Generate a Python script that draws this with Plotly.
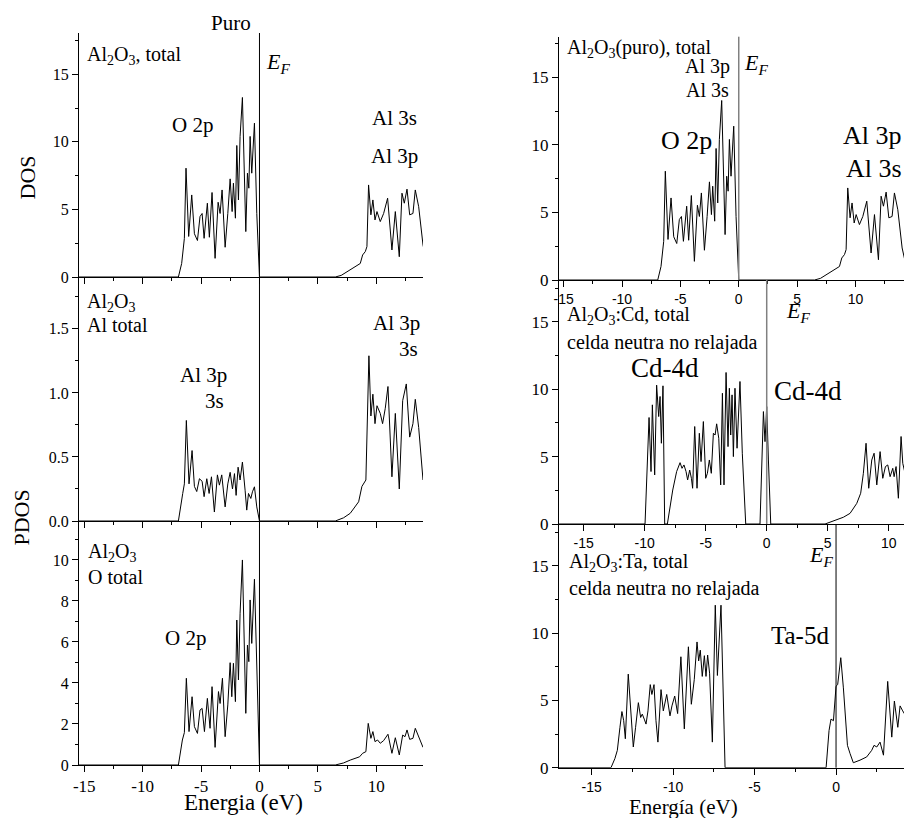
import plotly.graph_objects as go

# ---------------- data (energy in eV, DOS) ----------------
# Al2O3 pure, total DOS (used in top-left and top-right panels)
total_pts = [(-15.5, 0), (-6.94, 0), (-6.66, 1.0), (-6.51, 2.25), (-6.43, 2.86), (-6.29, 8.05),
             (-6.06, 3.0), (-5.8, 6.07), (-5.57, 3.2), (-5.31, 2.7), (-5.09, 4.47), (-4.91, 4.7),
             (-4.74, 2.86), (-4.46, 5.46), (-4.29, 2.94), (-4.06, 6.25), (-3.8, 1.38), (-3.54, 5.53),
             (-3.37, 4.7), (-3.2, 6.44), (-2.94, 2.2), (-2.71, 4.7), (-2.51, 7.26), (-2.34, 4.84),
             (-2.23, 6.94), (-2.06, 4.35), (-1.94, 9.73), (-1.8, 5.7), (-1.66, 10.4), (-1.46, 13.28),
             (-1.17, 3.36), (-1.03, 7.68), (-0.91, 6.57), (-0.8, 10.4), (-0.66, 7.68), (-0.43, 11.38),
             (-0.23, 4.7), (0.0, 0), (6.49, 0), (7.0, 0.12), (7.49, 0.4), (8.2, 0.77), (8.63, 1.0),
             (8.83, 1.63), (9.06, 1.88), (9.2, 2.25), (9.34, 6.81), (9.54, 4.6), (9.71, 5.7),
             (9.89, 4.22), (10.06, 4.84), (10.34, 4.1), (10.63, 4.7), (10.97, 5.83), (11.34, 2.0),
             (11.63, 4.84), (11.97, 1.5), (12.2, 6.2), (12.4, 5.46), (12.63, 6.5), (12.86, 4.6),
             (13.14, 4.7), (13.34, 6.44), (13.63, 5.2), (14.0, 2.37), (14.3, 1.2)]

# Al2O3, Al partial DOS
al_pts = [(-15.5, 0), (-6.94, 0), (-6.57, 0.215), (-6.43, 0.29), (-6.26, 0.785), (-6.03, 0.29),
          (-5.77, 0.55), (-5.57, 0.27), (-5.37, 0.23), (-5.14, 0.33), (-4.91, 0.31), (-4.74, 0.19),
          (-4.51, 0.33), (-4.31, 0.215), (-4.11, 0.345), (-3.86, 0.07), (-3.6, 0.36), (-3.43, 0.28),
          (-3.23, 0.36), (-2.94, 0.11), (-2.71, 0.29), (-2.51, 0.38), (-2.31, 0.25), (-2.14, 0.37),
          (-2.0, 0.2), (-1.83, 0.42), (-1.66, 0.32), (-1.46, 0.46), (-1.23, 0.24), (-1.09, 0.085),
          (-0.94, 0.215), (-0.74, 0.176), (-0.6, 0.228), (-0.43, 0.267), (-0.23, 0.11), (0.0, 0),
          (6.49, 0), (7.2, 0.025), (7.77, 0.06), (8.49, 0.15), (8.77, 0.27), (9.11, 0.32),
          (9.37, 1.29), (9.54, 0.82), (9.71, 0.99), (9.89, 0.76), (10.06, 0.9), (10.34, 0.84),
          (10.54, 0.76), (10.77, 0.88), (11.0, 1.05), (11.34, 0.345), (11.63, 0.84), (11.97, 0.25),
          (12.26, 0.94), (12.43, 1.02), (12.57, 1.07), (12.86, 0.655), (13.14, 0.76), (13.34, 0.95),
          (13.63, 0.73), (14.0, 0.32)]

# Al2O3, O partial DOS
o_pts = [(-15.5, 0), (-6.94, 0), (-6.6, 1.22), (-6.43, 1.58), (-6.26, 4.23), (-6.03, 1.63),
         (-5.77, 3.33), (-5.57, 1.87), (-5.31, 1.54), (-5.09, 2.68), (-4.91, 2.76), (-4.71, 1.63),
         (-4.46, 3.25), (-4.23, 1.79), (-4.06, 3.82), (-3.8, 0.86), (-3.51, 3.58), (-3.37, 3.0),
         (-3.17, 4.23), (-2.94, 1.38), (-2.71, 2.93), (-2.51, 4.99), (-2.37, 3.33), (-2.23, 4.96),
         (-2.06, 3.09), (-1.94, 7.07), (-1.8, 4.15), (-1.66, 7.4), (-1.46, 10.0), (-1.17, 2.52),
         (-1.03, 5.85), (-0.91, 5.04), (-0.8, 8.05), (-0.66, 5.93), (-0.43, 9.06), (-0.23, 4.31),
         (0.0, 0), (6.49, 0), (7.2, 0.1), (7.77, 0.24), (8.57, 0.4), (8.83, 0.57), (9.11, 0.65),
         (9.31, 2.03), (9.54, 1.3), (9.71, 1.63), (9.89, 1.14), (10.11, 1.22), (10.34, 1.06),
         (10.63, 1.19), (11.0, 1.5), (11.34, 0.57), (11.63, 1.33), (11.97, 0.49), (12.26, 1.46),
         (12.46, 1.38), (12.63, 1.71), (12.86, 1.25), (13.14, 1.3), (13.34, 1.79), (13.63, 1.38),
         (14.0, 0.86)]

# Al2O3:Cd, total DOS
cd_pts = [(-17.5, 0), (-9.97, 0), (-9.64, 7.9), (-9.48, 3.89), (-9.37, 8.84), (-9.18, 3.64),
          (-9.02, 10.3), (-8.85, 7.97), (-8.74, 9.46), (-8.63, 5.99), (-8.5, 10.25), (-8.36, 0),
          (-8.14, 0), (-7.92, 1.29), (-7.7, 2.52), (-7.38, 3.89), (-7.1, 4.55), (-6.94, 4.13),
          (-6.78, 4.38), (-6.61, 3.89), (-6.48, 3.27), (-6.31, 4.0), (-6.17, 3.39), (-6.07, 2.65),
          (-5.9, 7.23), (-5.71, 2.65), (-5.52, 6.73), (-5.38, 4.63), (-5.19, 7.6), (-5.0, 3.39),
          (-4.86, 3.76), (-4.7, 4.75), (-4.54, 3.76), (-4.37, 6.73), (-4.23, 6.6), (-4.1, 7.43),
          (-3.93, 6.36), (-3.77, 2.9), (-3.63, 9.7), (-3.5, 2.9), (-3.33, 11.24), (-3.17, 5.74),
          (-3.06, 10.07), (-2.95, 6.6), (-2.84, 9.58), (-2.73, 5.0), (-2.6, 10.07), (-2.43, 5.62),
          (-2.19, 10.57), (-2.0, 5.25), (-1.72, 0), (-0.55, 0), (-0.27, 8.34), (-0.14, 6.11),
          (0.0, 8.71), (0.14, 4.75), (0.33, 0), (4.78, 0), (5.46, 0.25), (6.28, 0.5), (6.83, 0.79),
          (7.38, 1.53), (7.7, 2.28), (7.92, 3.76), (8.14, 5.99), (8.36, 2.65), (8.61, 4.75),
          (8.8, 5.25), (9.02, 2.9), (9.29, 5.37), (9.51, 3.39), (9.73, 4.26), (9.92, 4.38),
          (10.11, 3.51), (10.33, 4.13), (10.44, 3.51), (10.6, 4.26), (10.79, 1.91), (11.01, 6.49),
          (11.15, 4.5), (11.4, 3.5)]

# Al2O3:Ta, total DOS
ta_pts = [(-17.5, 0), (-13.81, 0), (-13.57, 0.68), (-13.42, 1.29), (-13.26, 3.0), (-13.14, 4.17),
          (-13.03, 3.49), (-12.93, 2.15), (-12.75, 6.95), (-12.6, 4.46), (-12.44, 1.54), (-12.3, 3.0),
          (-12.13, 4.83), (-11.99, 3.73), (-11.89, 3.98), (-11.77, 3.61), (-11.66, 3.24), (-11.54, 4.22),
          (-11.4, 6.17), (-11.3, 5.44), (-11.17, 6.17), (-11.05, 3.49), (-10.93, 1.9), (-10.74, 5.8),
          (-10.6, 4.22), (-10.39, 5.44), (-10.19, 3.85), (-10.07, 4.59), (-9.9, 5.32), (-9.72, 4.02),
          (-9.52, 8.24), (-9.31, 2.88), (-9.06, 8.98), (-8.88, 4.71), (-8.7, 6.54), (-8.53, 9.34),
          (-8.43, 7.93), (-8.33, 8.73), (-8.21, 6.78), (-8.08, 8.32), (-7.98, 6.78), (-7.88, 8.37),
          (-7.76, 7.02), (-7.59, 1.9), (-7.41, 12.07), (-7.28, 6.85), (-7.06, 12.07), (-6.81, 0),
          (-0.61, 0), (-0.43, 2.76), (-0.31, 3.61), (-0.16, 3.49), (0.0, 6.05), (0.1, 6.17),
          (0.29, 8.17), (0.45, 5.93), (0.7, 1.66), (0.86, 1.05), (1.06, 0.37), (1.47, 0.56),
          (1.88, 0.8), (2.19, 1.29), (2.33, 1.66), (2.5, 1.54), (2.7, 1.9), (2.91, 0.93),
          (3.17, 6.41), (3.42, 2.27), (3.58, 4.95), (3.79, 3.0), (3.93, 4.59), (4.09, 4.22),
          (4.3, 3.8)]

# energy tick labels (plain hyphen minus as in the original)
x_tick_vals = [-15, -10, -5, 0, 5, 10]
x_tick_text = ["-15", "-10", "-5", "0", "5", "10"]

# ---------------- layout helpers ----------------
W, H = 904, 818


def px(x):
    return x / W


def py(y):
    return 1 - y / H


SERIF = "Liberation Serif, Times New Roman, serif"
SANS = "Liberation Sans, Arial, sans-serif"

fig = go.Figure()

panels = [
    (total_pts, 1),
    (al_pts, 2),
    (o_pts, 3),
    (total_pts, 4),
    (cd_pts, 5),
    (ta_pts, 6),
]
for pts, i in panels:
    xs = [p[0] for p in pts]
    ys = [p[1] for p in pts]
    suffix = "" if i == 1 else str(i)
    fig.add_trace(go.Scatter(x=xs, y=ys, mode="lines", line=dict(color="black", width=1),
                             xaxis="x" + suffix, yaxis="y" + suffix, showlegend=False,
                             cliponaxis=True, hoverinfo="skip"))


def xax(domain, rng, anchor, showlabels, font):
    return dict(domain=domain, range=rng, anchor=anchor, showline=True, linecolor="black",
                linewidth=1, ticks="outside", ticklen=6, tickwidth=1, tickcolor="black",
                showgrid=False, zeroline=False, tickmode="array", tickvals=x_tick_vals,
                ticktext=x_tick_text, showticklabels=showlabels, automargin=False,
                tickfont=dict(family=font[0], size=font[1], color="black"),
                minor=dict(ticks="outside", ticklen=3, tickcolor="black", dtick=2.5, tick0=0,
                           tickmode="linear", showgrid=False))


def yax(domain, rng, anchor, dtick, mdtick, size, fmt=None):
    d = dict(domain=domain, range=rng, anchor=anchor, showline=True, linecolor="black",
             linewidth=1, ticks="outside", ticklen=6, tickwidth=1, tickcolor="black",
             showgrid=False, zeroline=False, dtick=dtick, tick0=0, automargin=False,
             tickfont=dict(family=SERIF, size=size, color="black"),
             minor=dict(ticks="outside", ticklen=3, tickcolor="black", dtick=mdtick, tick0=0,
                        showgrid=False))
    if fmt:
        d["tickformat"] = fmt
    return d


LX = [px(79), px(423)]
RX = [px(559), 1.0]

layout = dict(
    width=W, height=H, autosize=False,
    margin=dict(l=0, r=0, t=0, b=0, pad=0, autoexpand=False),
    paper_bgcolor="white", plot_bgcolor="rgba(0,0,0,0)",
    font=dict(family=SERIF, color="black"),
    xaxis=xax(LX, [-15.45, 14.0], "y", False, (SERIF, 17)),
    yaxis=yax([py(277), py(33)], [0, 18.05], "x", 5, 2.5, 16),
    xaxis2=xax(LX, [-15.45, 14.0], "y2", False, (SERIF, 17)),
    yaxis2=yax([py(521), py(277)], [0, 1.905], "x2", 0.5, 0.25, 16, ".1f"),
    xaxis3=xax(LX, [-15.45, 14.0], "y3", True, (SERIF, 17)),
    yaxis3=yax([py(765), py(521)], [0, 11.9], "x3", 2, 1, 16),
    xaxis4=xax(RX, [-15.4, 14.16], "y4", True, (SANS, 14)),
    yaxis4=yax([py(280), py(36.7)], [0, 18.0], "x4", 5, 2.5, 17),
    xaxis5=xax(RX, [-17.02, 11.25], "y5", True, (SANS, 14)),
    yaxis5=yax([py(524), py(280)], [0, 18.1], "x5", 5, 2.5, 17),
    xaxis6=xax(RX, [-17.0, 4.17], "y6", True, (SANS, 14)),
    yaxis6=yax([py(767.7), py(524)], [0, 18.1], "x6", 5, 2.5, 17),
)
fig.update_layout(**layout)

# Fermi-level lines
shapes = []
for suffix, color in [("", "black"), ("2", "black"), ("3", "black"),
                      ("4", "#808080"), ("5", "#808080"), ("6", "black")]:
    shapes.append(dict(type="line", xref="x" + suffix, yref=("y" + suffix) + " domain",
                       x0=0, x1=0, y0=0, y1=1,
                       line=dict(color=color, width=1.5 if color != "black" else 1)))
fig.update_layout(shapes=shapes)

AL2O3 = "Al<sub>2</sub>O<sub>3</sub>"
EF = "<i>E<sub>F</sub></i>"

ann = []


def add(text, x, y, size, xanchor="center", angle=0):
    ann.append(dict(text=text, x=px(x), y=py(y), xref="paper", yref="paper",
                    xanchor=xanchor, yanchor="middle", showarrow=False, textangle=angle,
                    font=dict(family=SERIF, size=size, color="black")))


# left column
add("Puro", 231, 23, 21)
add(AL2O3 + ", total", 85, 56, 20, "left")
add(EF, 264, 63, 22, "left")
add("O 2p", 192, 125, 21)
add("Al 3s", 394, 118, 21)
add("Al 3p", 394, 155.5, 21)
add(AL2O3, 85, 302, 20, "left")
add("Al total", 85, 325, 20, "left")
add("Al 3p", 203, 375, 21)
add("3s", 214, 401, 21)
add("Al 3p", 396, 323, 21)
add("3s", 408, 349, 21)
add(AL2O3, 86, 552, 20, "left")
add("O total", 86, 577, 20, "left")
add("O 2p", 185, 638, 21)
add("DOS", 27.5, 178, 22, angle=-90)
add("PDOS", 21, 517.5, 22, angle=-90)
add("Energia (eV)", 244, 802, 23)

# right column
add(AL2O3 + "(puro), total", 565, 48, 20, "left")
add("Al 3p", 707.5, 66.5, 20)
add("Al 3s", 707.5, 89.5, 20)
add(EF, 742, 64, 22, "left")
add("O 2p", 686, 140, 26)
add("Al 3p", 904, 135.5, 26, "right")
add("Al 3s", 904, 168, 26, "right")
add(AL2O3 + ":Cd, total", 565, 315.5, 20, "left")
add("celda neutra no relajada", 565, 342, 20, "left")
add(EF, 784, 312, 22, "left")
add("Cd-4d", 665, 367.5, 27)
add("Cd-4d", 808, 390.5, 27)
add(AL2O3 + ":Ta, total", 567, 562, 20, "left")
add("celda neutra no relajada", 567, 588.5, 20, "left")
add(EF, 807, 556, 22, "left")
add("Ta-5d", 800, 635.5, 25)
add("Energía (eV)", 683, 806.5, 21)

fig.update_layout(annotations=ann)

fig.write_html("out.html", post_script="document.body.style.margin='0px';",
               config={"displayModeBar": False})
